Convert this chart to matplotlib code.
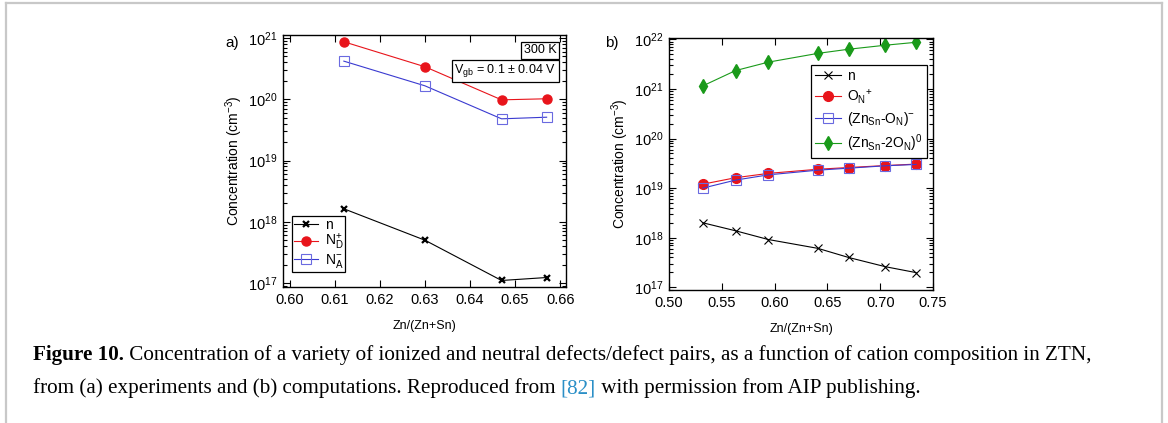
import numpy as np
import matplotlib
matplotlib.use("Agg")
import matplotlib.pyplot as plt
from matplotlib.lines import Line2D
from matplotlib.ticker import LogLocator, NullFormatter, FixedLocator

plt.rcParams['font.family'] = ['Liberation Sans', 'DejaVu Sans']
plt.rcParams['mathtext.fontset'] = 'custom'
plt.rcParams['mathtext.rm'] = 'Liberation Sans'
plt.rcParams['mathtext.it'] = 'Liberation Sans'
plt.rcParams['mathtext.default'] = 'regular'

# panel a) experiment
xa = [0.612, 0.630, 0.647, 0.657]
n_a = [1.63e18, 5.0e17, 1.1e17, 1.23e17]
nd_a = [8.7e20, 3.4e20, 9.8e19, 1.02e20]
na_a = [4.2e20, 1.66e20, 4.8e19, 5.1e19]

# panel b) computation
xb = [0.532, 0.563, 0.594, 0.641, 0.670, 0.705, 0.734]
n_b = [2.0e18, 1.38e18, 9.2e17, 6.1e17, 4.0e17, 2.6e17, 1.98e17]
on_b = [1.2e19, 1.62e19, 1.98e19, 2.4e19, 2.6e19, 2.85e19, 3.05e19]
znon_b = [1.0e19, 1.45e19, 1.85e19, 2.3e19, 2.52e19, 2.82e19, 3.0e19]
zn2on_b = [1.15e21, 2.34e21, 3.46e21, 5.2e21, 6.3e21, 7.6e21, 8.7e21]

RED = '#e8141b'
BLUE = '#3a3ad0'
GREEN = '#1a9a1a'

W, H = 1168, 423
fig = plt.figure(figsize=(W / 100, H / 100), dpi=100)


def px_axes(l, r, t, b):
    return fig.add_axes([l / W, 1 - b / H, (r - l) / W, (b - t) / H])


def style(ax):
    ax.set_yscale('log')
    ax.tick_params(which='both', direction='in', top=True, right=True,
                   labelsize=10.5, width=0.8, pad=4)
    ax.tick_params(which='major', length=5)
    ax.tick_params(which='minor', length=3)
    ax.yaxis.set_minor_locator(LogLocator(base=10, subs=np.arange(2, 10)))
    ax.yaxis.set_minor_formatter(NullFormatter())
    ax.xaxis.set_minor_locator(FixedLocator([]))
    for s in ax.spines.values():
        s.set_linewidth(1.0)
    ax.set_ylabel('Concentration (cm$^{-3}$)', fontsize=10, labelpad=2)
    ax.set_xlabel('Zn/(Zn+Sn)', fontsize=9, labelpad=10)


# ---- a)
ax1 = px_axes(283, 566, 35, 287)
style(ax1)
ax1.plot(xa, n_a, color='black', lw=0.8, marker='x', ms=5, mew=1.6, label='n')
ax1.plot(xa, nd_a, color=RED, lw=0.8, marker='o', ms=6.5, label='N$_{D}^{+}$')
ax1.plot(xa, na_a, color=BLUE, lw=0.8, marker='s', ms=6.5, mfc='none',
         mec='#6a6ae0', mew=0.8, label='N$_{A}^{-}$')
ax1.set_xlim(0.5985, 0.6613)
ax1.set_ylim(10 ** 16.935, 10 ** 21.05)
ax1.set_xticks([0.60, 0.61, 0.62, 0.63, 0.64, 0.65, 0.66])
ax1.set_xticklabels(['0.60', '0.61', '0.62', '0.63', '0.64', '0.65', '0.66'])
leg1 = ax1.legend(loc='lower left', bbox_to_anchor=(0.032, 0.06), borderaxespad=0,
                  fancybox=False, edgecolor='black', framealpha=1, fontsize=10,
                  handlelength=1.7, handletextpad=0.5, labelspacing=0.0,
                  borderpad=0.15)
leg1.get_frame().set_linewidth(0.9)
ax1.text(0.966, 0.940, '300 K', transform=ax1.transAxes, ha='right', va='center',
         fontsize=9, bbox=dict(boxstyle='square,pad=0.2', fc='white', ec='black', lw=0.9))
ax1.text(0.966, 0.859, 'V$_{gb}$ = 0.1 ± 0.04 V', transform=ax1.transAxes, ha='right',
         va='center', fontsize=9,
         bbox=dict(boxstyle='square,pad=0.2', fc='white', ec='black', lw=0.9))
fig.text(232 / W, 1 - 43 / H, 'a)', ha='center', va='center', fontsize=11)

# ---- b)
ax2 = px_axes(669, 933, 38, 290)
style(ax2)
ax2.plot(xb, n_b, color='black', lw=0.8, marker='x', ms=6, mew=0.8, label='n')
ax2.plot(xb, on_b, color=RED, lw=0.8, marker='o', ms=7, label='O$_{N}$$^{+}$')
ax2.plot(xb, znon_b, color=BLUE, lw=0.8, marker='s', ms=6.5, mfc='none',
         mec='#6a6ae0', mew=0.8, label='(Zn$_{Sn}$-O$_{N}$)$^{-}$')
ax2.plot(xb, zn2on_b, color=GREEN, lw=0.8, marker='d', ms=7.5,
         label='(Zn$_{Sn}$-2O$_{N}$)$^{0}$')
ax2.set_xlim(0.50, 0.75)
ax2.set_ylim(10 ** 16.946, 10 ** 22.026)
ax2.set_xticks([0.50, 0.55, 0.60, 0.65, 0.70, 0.75])
ax2.set_xticklabels(['0.50', '0.55', '0.60', '0.65', '0.70', '0.75'])
leg2 = ax2.legend(loc='upper right', bbox_to_anchor=(0.977, 0.893), borderaxespad=0,
                  fancybox=False, edgecolor='black', framealpha=1, fontsize=10,
                  handlelength=1.9, handletextpad=0.4, labelspacing=0.3,
                  borderpad=0.3)
leg2.get_frame().set_linewidth(0.9)
fig.text(612 / W, 1 - 43 / H, 'b)', ha='center', va='center', fontsize=11)

# ---- page frame
frame = dict(color='#c8c8c8', lw=1.6, transform=fig.transFigure)
fig.add_artist(Line2D([5.5 / W, 1162 / W], [1 - 3.5 / H] * 2, **frame))
fig.add_artist(Line2D([5.5 / W] * 2, [0, 1 - 3.5 / H], **frame))
fig.add_artist(Line2D([1162 / W] * 2, [0, 1 - 3.5 / H], **frame))

# ---- caption
cap = dict(family=['Liberation Serif', 'DejaVu Serif'], fontsize=15.2, va='baseline')
t = fig.text(33 / W, 1 - 360 / H, 'Figure 10.', fontweight='bold', **cap)
plt.annotate(' Concentration of a variety of ionized and neutral defects/defect pairs, '
             'as a function of cation composition in ZTN,',
             xy=(1, 0), xycoords=t, va='bottom', ha='left',
             family=cap['family'], fontsize=cap['fontsize'])
l2 = fig.text(33 / W, 1 - 393 / H, 'from (a) experiments and (b) computations. Reproduced from ',
              **cap)
r1 = plt.annotate('[82]', xy=(1, 0), xycoords=l2, va='bottom', ha='left', color='#2a8fc7',
                  family=cap['family'], fontsize=cap['fontsize'])
plt.annotate(' with permission from AIP publishing.', xy=(1, 0), xycoords=r1, va='bottom',
             ha='left', family=cap['family'], fontsize=cap['fontsize'])

fig.savefig('out.png', dpi=100)
